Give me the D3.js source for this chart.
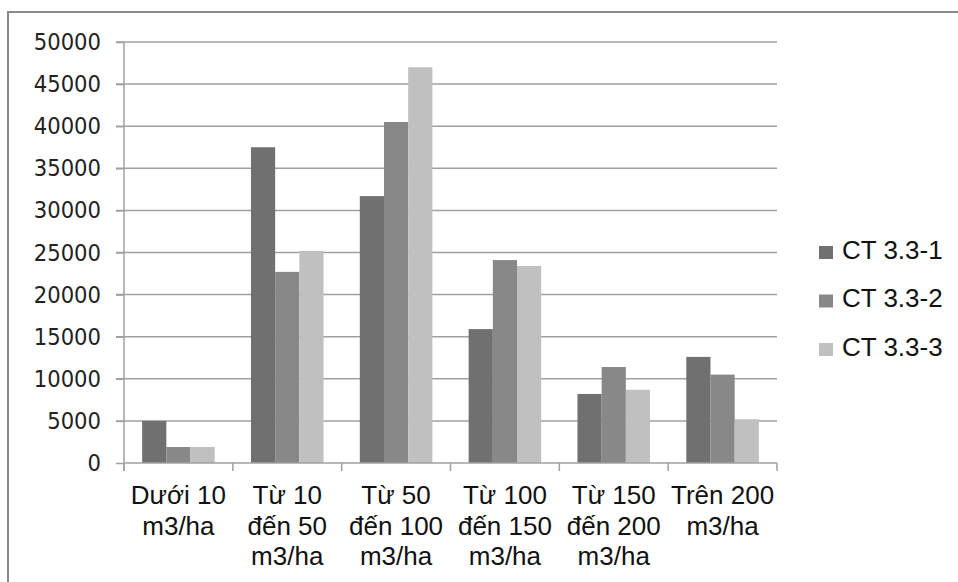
<!DOCTYPE html>
<html>
<head>
<meta charset="utf-8">
<script src="https://cdn.jsdelivr.net/npm/d3@7"></script>
<style>
  html, body { margin: 0; padding: 0; background: #fff; }
  svg { display: block; }
</style>
</head>
<body>
<div id="chart"></div>
<script>
// categories (line breaks as in the picture)
const categories = [
    "Dưới 10\nm3/ha",
    "Từ 10\nđến 50\nm3/ha",
    "Từ 50\nđến 100\nm3/ha",
    "Từ 100\nđến 150\nm3/ha",
    "Từ 150\nđến 200\nm3/ha",
    "Trên 200\nm3/ha"
];

const seriesNames = ["CT 3.3-1", "CT 3.3-2", "CT 3.3-3"];

const ct1 = [5000, 37500, 31700, 15900, 8200, 12600];
const ct2 = [1900, 22700, 40500, 24100, 11400, 10500];
const ct3 = [1900, 25200, 47000, 23400, 8700, 5200];

const yTicks = [0, 5000, 10000, 15000, 20000, 25000, 30000, 35000, 40000, 45000, 50000];

function main() {
    const width = 958;
    const height = 582;

    const plot = { left: 124, right: 777, top: 42, bottom: 463 };

    const seriesValues = [ct1, ct2, ct3];
    const colours = d3.scaleOrdinal()
        .domain(seriesNames)
        .range(["#707070", "#888888", "#c0c0c0"]);

    const svg = d3.select("#chart").append("svg")
        .attr("width", width)
        .attr("height", height);

    // outer chart border (only left and top show in the picture)
    svg.append("rect")
        .attr("x", 8)
        .attr("y", 12)
        .attr("width", 970)
        .attr("height", 620)
        .attr("fill", "none")
        .attr("stroke", "#8a8a8a")
        .attr("stroke-width", 2);

    const y = d3.scaleLinear()
        .domain([0, 50000])
        .range([plot.bottom, plot.top]);

    const x0 = d3.scaleBand()
        .domain(categories)
        .range([plot.left, plot.right])
        .paddingInner(1 / 3)
        .paddingOuter(1 / 6);

    const x1 = d3.scaleBand()
        .domain(seriesNames)
        .range([0, x0.bandwidth()]);

    // gridlines
    svg.append("g")
        .selectAll("line")
        .data(yTicks.filter(d => d > 0))
        .join("line")
        .attr("x1", plot.left - 8)
        .attr("x2", plot.right)
        .attr("y1", d => y(d))
        .attr("y2", d => y(d))
        .attr("stroke", "#a0a0a0")
        .attr("stroke-width", 1.5);

    // y axis
    const yAxis = svg.append("g")
        .attr("transform", `translate(${plot.left},0)`)
        .call(d3.axisLeft(y).tickValues(yTicks).tickSize(8).tickPadding(15).tickFormat(d3.format("d")));
    yAxis.select(".domain").attr("stroke", "#a0a0a0").attr("stroke-width", 1.5)
        .attr("d", `M0,${plot.top}V${plot.bottom + 8}`);
    yAxis.selectAll(".tick line").attr("stroke", "#a0a0a0").attr("stroke-width", 1.5);
    yAxis.selectAll(".tick text")
        .attr("fill", "#222")
        .style("font-family", "'DejaVu Sans Condensed', 'DejaVu Sans', sans-serif")
        .style("font-size", "23.5px");

    // bars
    const groups = svg.append("g")
        .selectAll("g")
        .data(categories)
        .join("g")
        .attr("transform", d => `translate(${x0(d)},0)`);

    groups.selectAll("rect")
        .data((c, i) => seriesNames.map((s, j) => ({ series: s, value: seriesValues[j][i] })))
        .join("rect")
        .attr("x", d => x1(d.series))
        .attr("width", x1.bandwidth())
        .attr("y", d => y(d.value))
        .attr("height", d => y(0) - y(d.value))
        .attr("fill", d => colours(d.series));

    // x axis baseline and ticks at band boundaries
    const step = x0.step();
    svg.append("line")
        .attr("x1", plot.left)
        .attr("x2", plot.right)
        .attr("y1", y(0))
        .attr("y2", y(0))
        .attr("stroke", "#a0a0a0")
        .attr("stroke-width", 1.5);

    svg.append("g")
        .selectAll("line")
        .data(d3.range(categories.length + 1))
        .join("line")
        .attr("x1", i => plot.left + i * step)
        .attr("x2", i => plot.left + i * step)
        .attr("y1", y(0))
        .attr("y2", y(0) + 8)
        .attr("stroke", "#a0a0a0")
        .attr("stroke-width", 1.5);

    // category labels
    const catLabels = svg.append("g")
        .selectAll("text")
        .data(categories)
        .join("text")
        .attr("x", d => x0(d) + x0.bandwidth() / 2)
        .attr("y", 504)
        .attr("text-anchor", "middle")
        .attr("fill", "#111")
        .style("font-family", "'Liberation Sans', Arial, sans-serif")
        .style("font-size", "26px");

    catLabels.selectAll("tspan")
        .data(d => d.split("\n"))
        .join("tspan")
        .attr("x", function() { return this.parentNode.getAttribute("x"); })
        .attr("dy", (d, i) => i === 0 ? 0 : 30.5)
        .text(d => d);

    // legend
    const legend = svg.append("g")
        .attr("transform", "translate(819,246)");

    const items = legend.selectAll("g")
        .data(seriesNames)
        .join("g")
        .attr("transform", (d, i) => `translate(0,${i * 48.5})`);

    items.append("rect")
        .attr("width", 14)
        .attr("height", 13)
        .attr("fill", d => colours(d));

    items.append("text")
        .attr("x", 23)
        .attr("y", 12.5)
        .attr("fill", "#111")
        .style("font-family", "'Liberation Sans', Arial, sans-serif")
        .style("font-size", "26px")
        .text(d => d);
}

main();
</script>
</body>
</html>
